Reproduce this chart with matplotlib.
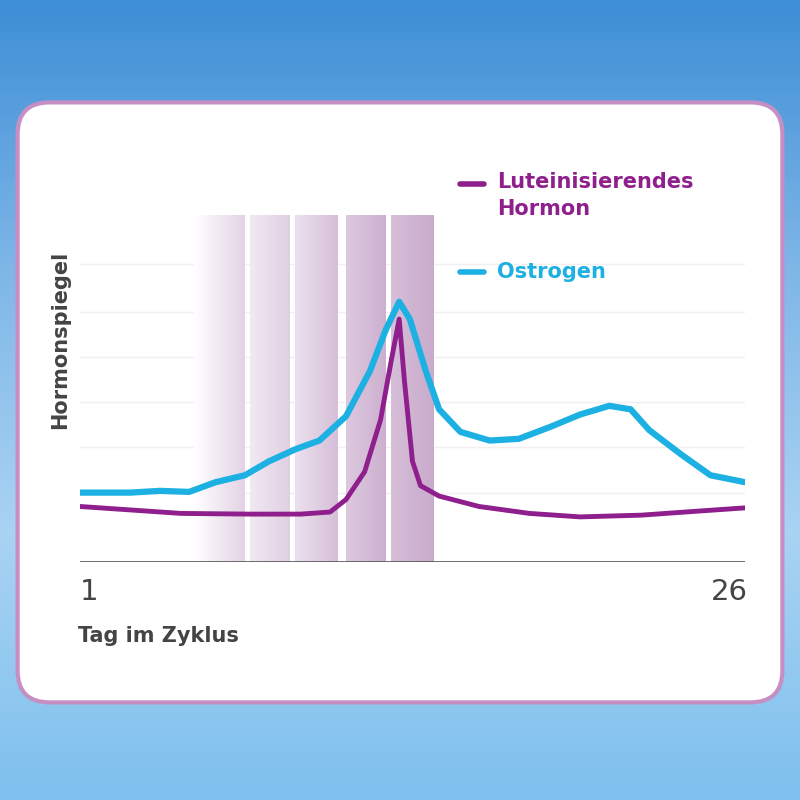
import numpy as np
import matplotlib
matplotlib.use("Agg")
import matplotlib.pyplot as plt
from matplotlib.patches import FancyBboxPatch
from matplotlib.colors import LinearSegmentedColormap

# data (day, level 0-100)
est_day = [1.0, 2.9, 4.0, 5.1, 6.1, 7.2, 8.1, 9.1, 10.0, 11.0, 11.9, 12.5, 13.0, 13.4, 14.0, 14.5, 15.3, 16.4, 17.5, 18.7, 19.8, 20.9, 21.7, 22.4, 23.6, 24.7, 26.0]
est_val = [20, 20, 20.5, 20.2, 23, 25, 29, 32.5, 35, 42, 55, 67, 75, 70, 55, 44, 37.5, 35, 35.5, 39, 42.5, 45, 44, 38, 31, 25, 23]
lh_day = [1.0, 2.9, 4.8, 7.4, 9.3, 10.4, 11.0, 11.7, 12.3, 12.7, 13.0, 13.2, 13.5, 13.8, 14.5, 16.0, 17.9, 19.8, 22.1, 24.3, 26.0]
lh_val = [16, 15, 14, 13.8, 13.8, 14.4, 18, 26, 41, 58, 70, 52, 29, 22, 19, 16, 14, 13, 13.5, 14.7, 15.6]
bands = [(5.3, 7.2), (7.4, 8.9), (9.1, 10.7), (11.0, 12.5), (12.7, 14.3)]
x_ticks = [1, 26]

PURPLE = "#8e1f8c"
CYAN = "#1cb0e3"

fig = plt.figure(figsize=(8, 8), dpi=100)
bg = fig.add_axes([0, 0, 1, 1])
bg.axis("off")
grad = np.linspace(0, 1, 256)[:, None]
cm = LinearSegmentedColormap.from_list("b", ["#3d8ed6", "#7fb6e8", "#a9d3f3", "#7ec0ee"])
bg.imshow(grad, aspect="auto", cmap=cm, extent=[0, 1, 0, 1], transform=bg.transAxes)
bg.set_xlim(0, 1); bg.set_ylim(0, 1)
bg.add_patch(FancyBboxPatch((0.022, 0.122), 0.956, 0.75, boxstyle="round,pad=0,rounding_size=0.04",
                            fc="white", ec="#c58fc4", lw=3, transform=bg.transAxes))

ax = fig.add_axes([80/800, 238/800, 665/800, 347/800])
ax.patch.set_alpha(0)
for y in [20, 33, 46, 59, 72, 86]:
    ax.axhline(y, color="#f2eef2", lw=1, zorder=0)
ends = ["#e3d3e5", "#e0cfe2", "#d6bfd9", "#cdb0d0", "#c9aacc"]
starts = ["#ffffff", "#f1e9f2", "#ece1ee", "#ddc9df", "#d6bfd9"]
for i, (a, b) in enumerate(bands):
    c = LinearSegmentedColormap.from_list("p%d" % i, [starts[i], ends[i]])
    ax.imshow(np.linspace(0, 1, 100)[None, :], aspect="auto", cmap=c,
              extent=[a, b, 0, 100], zorder=1)
ax.set_xlim(1, 26); ax.set_ylim(0, 100)
ax.plot(est_day, est_val, color=CYAN, lw=4.5, zorder=3, solid_capstyle="round", solid_joinstyle="round")
ax.plot(lh_day, lh_val, color=PURPLE, lw=3.5, zorder=4, solid_capstyle="round", solid_joinstyle="round")
ax.axhline(0, color="#555555", lw=1.2, zorder=5)
for s in ax.spines.values():
    s.set_visible(False)
ax.set_xticks([]); ax.set_yticks([])

fig.text(80/800, 1-592/800, str(x_ticks[0]), fontsize=21, color="#444444", va="center", ha="left")
fig.text(748/800, 1-592/800, str(x_ticks[1]), fontsize=21, color="#444444", va="center", ha="right")
fig.text(78/800, 1-636/800, "Tag im Zyklus", fontsize=15, color="#444444", weight="bold", va="center")
fig.text(60/800, 1-340/800, "Hormonspiegel", fontsize=15, color="#444444", weight="bold",
         rotation=90, va="center", ha="center")
bg.plot([460/800, 484/800], [1-184/800]*2, color=PURPLE, lw=4, solid_capstyle="round", transform=bg.transAxes)
fig.text(497/800, 1-172/800, "Luteinisierendes\nHormon", fontsize=15, color=PURPLE, weight="bold",
         va="top", ha="left", linespacing=1.45)
bg.plot([460/800, 484/800], [1-272/800]*2, color=CYAN, lw=4, solid_capstyle="round", transform=bg.transAxes)
fig.text(497/800, 1-272/800, "Ostrogen", fontsize=15, color=CYAN, weight="bold", va="center", ha="left")

fig.savefig("out.png", dpi=100)
